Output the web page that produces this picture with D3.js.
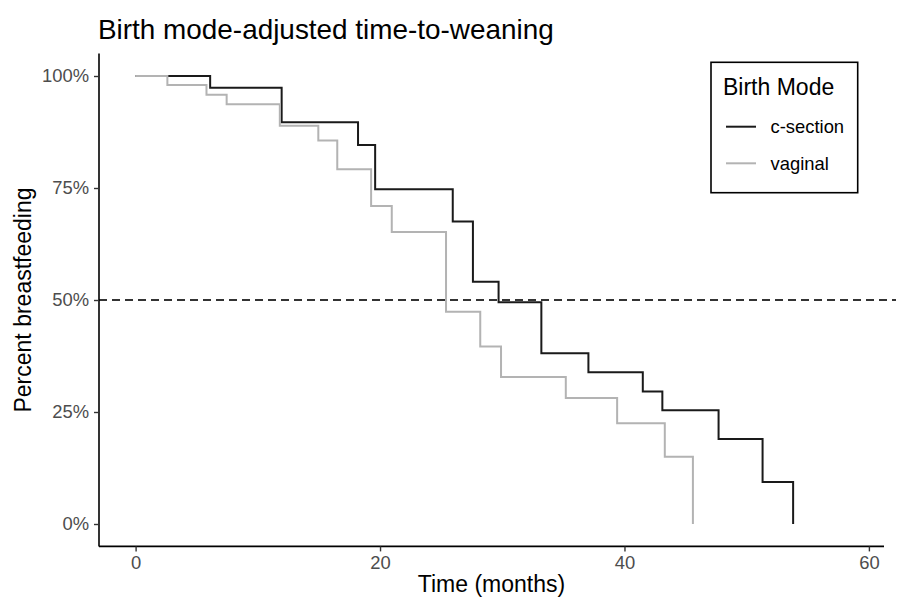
<!DOCTYPE html>
<html>
<head>
<meta charset="utf-8">
<script src="https://cdn.jsdelivr.net/npm/d3@7"></script>
<style>
  html, body { margin: 0; padding: 0; background: #fff; }
  svg { display: block; font-family: "Liberation Sans", Arial, sans-serif; }
</style>
</head>
<body>
<svg id="chart" width="897" height="601"></svg>
<script>
// ---- data ----
const seriesNames = ["c-section", "vaginal"];
const csectionTime = [0, 6.1, 11.95, 18.2, 19.6, 25.95, 27.6, 29.7, 33.2, 37.05, 41.5, 43.1, 47.7, 51.3, 53.8];
const csectionSurv = [1, 0.974, 0.897, 0.846, 0.747, 0.675, 0.541, 0.495, 0.381, 0.339, 0.296, 0.254, 0.19, 0.094, 0];
const vaginalTime = [0, 2.6, 5.8, 7.45, 11.8, 14.95, 16.5, 19.27, 20.96, 25.4, 28.2, 29.9, 35.2, 39.4, 43.3, 45.6];
const vaginalSurv = [1, 0.98, 0.958, 0.937, 0.889, 0.856, 0.792, 0.71, 0.652, 0.474, 0.396, 0.328, 0.281, 0.225, 0.15, 0];
const xTicks = [0, 20, 40, 60];
const yTicks = [0, 0.25, 0.5, 0.75, 1];
const medianLine = 0.5;

const svg = d3.select("#chart");
const panel = {left: 99, right: 884, top: 53.6, bottom: 546.4};

const x = d3.scaleLinear().domain([0, 60]).range([135.6, 868.9]);
const y = d3.scaleLinear().domain([0, 1]).range([524, 76]);

const colors = {"c-section": "#1a1a1a", "vaginal": "#b3b3b3"};
const series = [
  {name: "c-section", pts: csectionTime.map((t, i) => [t, csectionSurv[i]])},
  {name: "vaginal", pts: vaginalTime.map((t, i) => [t, vaginalSurv[i]])}
];

const line = d3.line().x(d => x(d[0])).y(d => y(d[1])).curve(d3.curveStepAfter);

series.forEach(s => {
  svg.append("path")
    .attr("d", line(s.pts))
    .attr("fill", "none")
    .attr("stroke", colors[s.name])
    .attr("stroke-width", 2);
});

// median dashed line
svg.append("line")
  .attr("x1", panel.left).attr("x2", 896)
  .attr("y1", y(medianLine)).attr("y2", y(medianLine))
  .attr("stroke", "#333").attr("stroke-width", 2)
  .attr("stroke-dasharray", "8,5");

// axes
const xAxis = d3.axisBottom(x).tickValues(xTicks).tickSize(5).tickPadding(5).tickFormat(d3.format("d"));
const gx = svg.append("g").attr("transform", `translate(0,${panel.bottom})`).call(xAxis);
gx.select(".domain").attr("d", `M${panel.left},0H${panel.right}`).attr("stroke", "#000").attr("stroke-width", 1.6);
gx.selectAll(".tick line").attr("stroke", "#333").attr("stroke-width", 1.4);
gx.selectAll(".tick text").attr("fill", "#4d4d4d").attr("font-size", 18.4).attr("font-family", "Liberation Sans, Arial, sans-serif");

const yAxis = d3.axisLeft(y).tickValues(yTicks).tickSize(5).tickPadding(5).tickFormat(d3.format(".0%"));
const gy = svg.append("g").attr("transform", `translate(${panel.left},0)`).call(yAxis);
gy.select(".domain").attr("d", `M0,${panel.top}V${panel.bottom}`).attr("stroke", "#000").attr("stroke-width", 1.6);
gy.selectAll(".tick line").attr("stroke", "#333").attr("stroke-width", 1.4);
gy.selectAll(".tick text").attr("fill", "#4d4d4d").attr("font-size", 18.4).attr("font-family", "Liberation Sans, Arial, sans-serif");

// titles
svg.append("text").attr("x", 98).attr("y", 39)
  .attr("font-size", 27.9).attr("fill", "#000")
  .text("Birth mode-adjusted time-to-weaning");

svg.append("text").attr("x", (panel.left + panel.right) / 2).attr("y", 592)
  .attr("text-anchor", "middle").attr("font-size", 23).attr("fill", "#000")
  .text("Time (months)");

svg.append("text")
  .attr("transform", `translate(31,${(panel.top + panel.bottom) / 2}) rotate(-90)`)
  .attr("text-anchor", "middle").attr("font-size", 23).attr("fill", "#000")
  .text("Percent breastfeeding");

// legend
const lg = svg.append("g");
lg.append("rect").attr("x", 711).attr("y", 62.3).attr("width", 146.7).attr("height", 130.4)
  .attr("fill", "#fff").attr("stroke", "#000").attr("stroke-width", 1.6);
lg.append("text").attr("x", 723).attr("y", 94.5).attr("font-size", 23).attr("fill", "#000").text("Birth Mode");
seriesNames.forEach((n, i) => {
  const cy = 126.7 + i * 36.6;
  lg.append("line").attr("x1", 726).attr("x2", 756).attr("y1", cy).attr("y2", cy)
    .attr("stroke", colors[n]).attr("stroke-width", 2);
  lg.append("text").attr("x", 770.5).attr("y", cy + 6.5).attr("font-size", 18.4).attr("fill", "#000").text(n);
});
</script>
</body>
</html>
